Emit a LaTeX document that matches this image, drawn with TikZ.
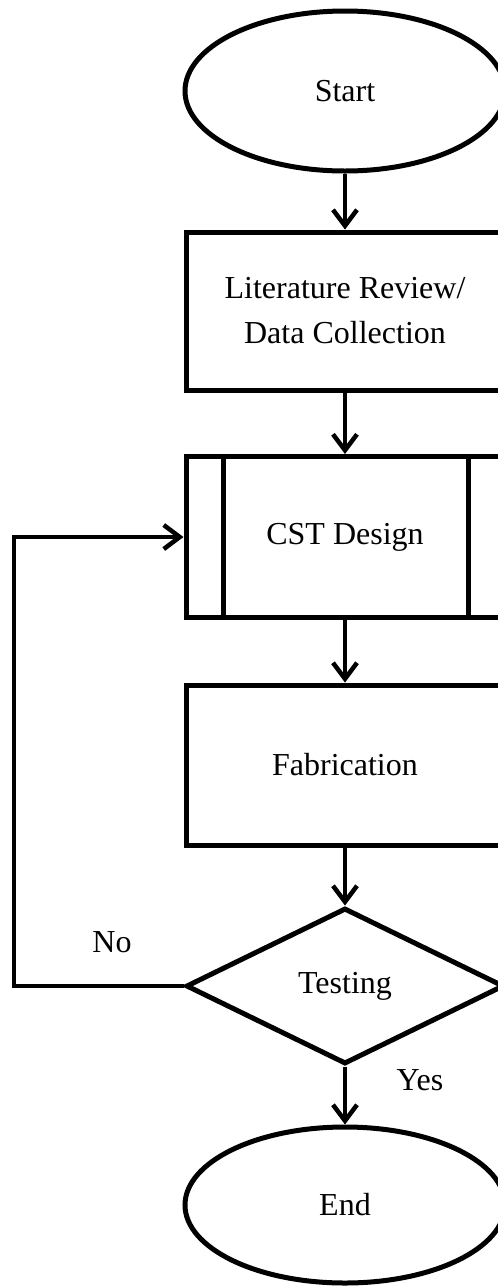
\documentclass[tikz,border=0pt]{standalone}
\usepackage{fontspec}
\setmainfont{Liberation Serif}
\usetikzlibrary{shapes.geometric,arrows.meta}

\begin{document}
\begin{tikzpicture}[
    x=1pt, y=-1pt,
    every node/.style={align=center, font=\fontsize{32}{45}\selectfont},
    terminal/.style={ellipse, draw, line width=5pt, minimum width=320pt, minimum height=160pt, inner sep=0pt},
    box/.style={rectangle, draw, line width=5pt, minimum width=318pt, minimum height=158pt, inner sep=0pt},
    decision/.style={diamond, draw, line width=5pt, minimum width=318pt, minimum height=156pt, aspect=2, inner sep=0pt},
    flow/.style={line width=4.5pt, -{Straight Barb[length=16pt, width=24pt, line width=4.5pt]}},
    plain/.style={line width=5pt}
]
\clip (0,0) rectangle (498,1286);

% Nodes
\node[terminal] (start) at (345, 91) {Start};
\node[box] (litRev) at (345, 311) {Literature Review/\\Data Collection};
\node[box, minimum height=161pt] (cstDesign) at (345, 537) {CST Design};
\node[box, minimum height=160pt] (fab) at (345, 765) {Fabrication};
\node[decision] (testing) at (345, 986) {Testing};
\node[terminal, minimum height=156pt] (endNode) at (345, 1205) {End};
\node (noLabel) at (112, 942) {No};
\node (yesLabel) at (420, 1080) {Yes};
\coordinate (loopCorner) at (14, 986);

% Inner sides of the process box
\draw[plain] ([xshift=40pt]cstDesign.north west) -- ([xshift=40pt]cstDesign.south west);
\draw[plain] ([xshift=-38pt]cstDesign.north east) -- ([xshift=-38pt]cstDesign.south east);

% Arrows
\draw[flow] (start) -- (litRev);
\draw[flow] (litRev) -- (cstDesign);
\draw[flow] (cstDesign) -- (fab);
\draw[flow] (fab) -- (testing);
\draw[flow] (testing) -- (endNode);
\draw[flow] (testing.west) -- (loopCorner) |- (cstDesign.west);

\end{tikzpicture}
\end{document}
